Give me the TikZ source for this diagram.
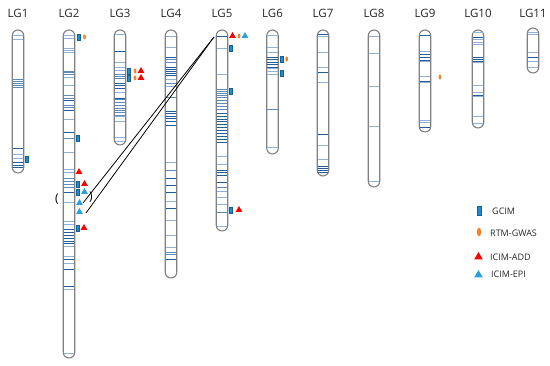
\documentclass[tikz,border=0pt]{standalone}
\usepackage{fontspec}
\setmainfont{Open Sans}
\usetikzlibrary{shapes.geometric}

\definecolor{bandDark}{RGB}{35,92,155}
\definecolor{bandMid}{RGB}{95,138,188}
\definecolor{bandLight}{RGB}{145,178,214}
\definecolor{chromLine}{RGB}{128,128,128}
\definecolor{gcimBlue}{RGB}{30,140,208}
\definecolor{epiBlue}{RGB}{40,160,226}
\definecolor{rtmOrange}{RGB}{245,130,40}

\begin{document}
\begin{tikzpicture}[x=1pt, y=-1pt,
        chrom/.style={draw=chromLine, line width=1.1pt, fill=white, rounded corners=5.8pt, minimum width=11.5pt, inner sep=0},
        lglabel/.style={font=\fontsize{11.5}{13}\selectfont, text=black!85},
        darkband/.style={draw=bandDark, line width=0.9pt},
        midband/.style={draw=bandMid, line width=0.9pt},
        lightband/.style={draw=bandLight, line width=1pt},
        gcim/.style={draw=gcimBlue!70!black, line width=0.3pt, fill=gcimBlue, minimum width=3.2pt, minimum height=6pt, inner sep=0},
        rtm/.style={ellipse, fill=rtmOrange, minimum width=2.8pt, minimum height=5pt, inner sep=0},
        iadd/.style={regular polygon, regular polygon sides=3, fill=red, minimum size=8pt, inner sep=0},
        iepi/.style={regular polygon, regular polygon sides=3, fill=epiBlue, minimum size=8pt, inner sep=0},
        legtext/.style={font=\fontsize{9}{10}\selectfont, text=black!85, anchor=west, inner sep=0}
    ]
    \useasboundingbox (0,0) rectangle (550,366);

    % linkage groups
    \node[chrom, minimum height=143pt] (lg1) at (18,101.5) {};
    \node[chrom, minimum height=328pt] (lg2) at (69,194) {};
    \node[chrom, minimum height=115pt] (lg3) at (120,87.5) {};
    \node[chrom, minimum height=248pt] (lg4) at (171,154) {};
    \node[chrom, minimum height=201pt] (lg5) at (222,130.5) {};
    \node[chrom, minimum height=124pt] (lg6) at (272.5,92) {};
    \node[chrom, minimum height=146pt] (lg7) at (323,103) {};
    \node[chrom, minimum height=157pt] (lg8) at (374,108.5) {};
    \node[chrom, minimum height=102pt] (lg9) at (425,81) {};
    \node[chrom, minimum height=98pt] (lg10) at (478,79) {};
    \node[chrom, minimum height=45pt] (lg11) at (533,50.5) {};

    \foreach \n/\cx in {1/18, 2/69, 3/120, 4/171, 5/222, 6/272.5, 7/323, 8/374, 9/425, 10/478, 11/533}
        \node[lglabel] (t\n) at (\cx,13.5) {LG\n};

    % marker bands
    \foreach \cx/\ys in {18/{36,40,155,159}, 69/{36,39,49,51,53,78,86,120,153,170,173,203,222,225,247,257,264,290,354},
            120/{35,63,68,71,93,117,122,138,142}, 171/{37,48,80,87,163,202,221,236,248},
            222/{49,75,157,165,192,198,205,227}, 272.5/{36,48,53,69,72,75,148},
            323/{37,53,68,83,146,160}, 374/{37,54,87,127,182}, 425/{52,62,77,83,121,123},
            478/{33,40,43,45,63,86,93,97,117,124}, 533/{33,35,53,62,68}}
        \foreach \y in \ys \draw[lightband] (\cx-5.3,\y) -- (\cx+5.3,\y);
    \foreach \cx/\ys in {18/{79,81,83,85,87}, 69/{71,72.5,74,95,98,105,107,138,178,181,184,187},
            120/{74,76,78,99,102,105,108,110,112,115}, 171/{59,62,83,97,170,252,254},
            222/{89,91,93,95,97,100,103,106,109,187,212}, 272.5/{109}}
        \foreach \y in \ys \draw[midband] (\cx-5.3,\y) -- (\cx+5.3,\y);
    \foreach \cx/\ys in {18/{148,162,165,167}, 69/{100,110,132,192,229,232,235,238,241,243,259,269,286},
            120/{51,83,85,88,98}, 171/{57,67,69,71,73,75,111,113,116,118,121,125,178,185,192,208,259},
            222/{36,113,116,119,121,124,127,130,133,136,139,142,170,172,175,182},
            272.5/{57,59,62,64,67}, 323/{34,72,134,166,168,170,172},
            425/{35,54,57,60,81,127}, 478/{37,57,59,61,95}, 533/{57}}
        \foreach \y in \ys \draw[darkband] (\cx-5.3,\y) -- (\cx+5.3,\y);

    % QTL markers
    \node[gcim] (g1a) at (26.5,159) {};
    \node[gcim] (g2a) at (78.5,37) {};
    \node[rtm] (r2a) at (84.5,37) {};
    \node[gcim] (g2b) at (78,138) {};
    \node[iadd] (a2a) at (79,172) {};
    \node[gcim] (g2c) at (77.5,184) {};
    \node[iadd] (a2b) at (84.5,184) {};
    \node[gcim] (g2d) at (77.5,192) {};
    \node[iepi] (e2a) at (84.5,192) {};
    \node[iepi] (e2b) at (79.5,203) {};
    \node[iepi] (e2c) at (79.5,212) {};
    \node[gcim] (g2e) at (77.5,228) {};
    \node[iadd] (a2c) at (84,228) {};
    \node[gcim] (g3a) at (129,71) {};
    \node[rtm] (r3a) at (135,71) {};
    \node[iadd] (a3a) at (141,71) {};
    \node[gcim] (g3b) at (129,78) {};
    \node[rtm] (r3b) at (135,78) {};
    \node[iadd] (a3b) at (141,78) {};
    \node[iadd] (a5a) at (232.5,36) {};
    \node[rtm] (r5a) at (239,36) {};
    \node[iepi] (e5a) at (245,36) {};
    \node[gcim] (g5a) at (231,48) {};
    \node[gcim] (g5b) at (231,91) {};
    \node[gcim] (g5c) at (231,210) {};
    \node[iadd] (a5b) at (239,210) {};
    \node[gcim] (g6a) at (281.5,59) {};
    \node[rtm] (r6a) at (286.7,59) {};
    \node[gcim] (g6b) at (281.5,73) {};
    \node[rtm] (r9a) at (440,77) {};

    % epistatic link LG2 -- LG5
    \node[font=\fontsize{12}{13}\selectfont, inner sep=0] (lpar) at (57,199) {(};
    \node[font=\fontsize{12}{13}\selectfont, inner sep=0] (rpar) at (91,197) {)};
    \coordinate (q2a) at (83,203);
    \coordinate (q2b) at (86,213);
    \coordinate (q5) at (214,37);
    \draw[line width=0.8pt] (q2a) -- (q5);
    \draw[line width=0.8pt] (q2b) -- (q5);

    % legend
    \node[gcim, minimum width=4.5pt, minimum height=9pt] (kg) at (479,211) {};
    \node[rtm, minimum width=4.5pt, minimum height=8.5pt] (kr) at (479,232) {};
    \node[iadd, minimum size=10pt] (ka) at (478.5,257) {};
    \node[iepi, minimum size=10pt] (ke) at (478.5,275) {};
    \node[legtext] (kgt) at (492,211) {GCIM};
    \node[legtext] (krt) at (490,233) {RTM-GWAS};
    \node[legtext] (kat) at (490,257) {ICIM-ADD};
    \node[legtext] (ket) at (491,274) {ICIM-EPI};
\end{tikzpicture}
\end{document}
